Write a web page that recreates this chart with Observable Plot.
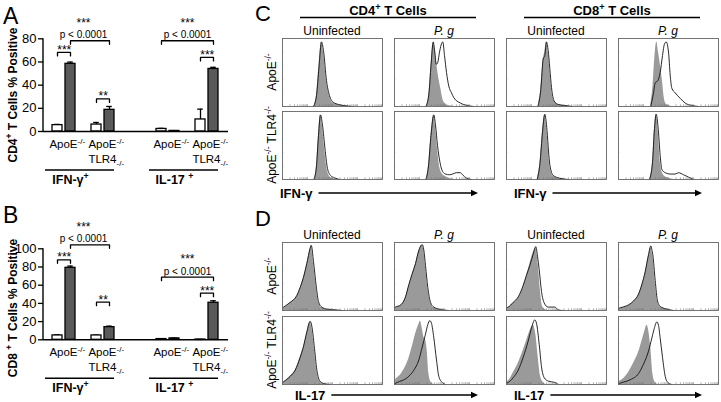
<!DOCTYPE html>
<html>
<head>
<meta charset="utf-8">
<script src="https://cdn.jsdelivr.net/npm/d3@7"></script>
<script src="https://cdn.jsdelivr.net/npm/@observablehq/plot@0.6"></script>
<style>
  html,body{margin:0;padding:0;background:#fff;}
  #fig{position:relative;width:721px;height:402px;overflow:hidden;background:#fff;}
  #fig svg{position:absolute;overflow:visible;}
</style>
</head>
<body>
<div id="fig"></div>
<script>
const FONT = "Arial, 'Liberation Sans', Helvetica, sans-serif";

// ---------- Panels A & B : bar charts ----------
const conditions = ["Uninfected", "P. g"];
const genotypes = ["ApoE^-/-", "ApoE^-/-\nTLR4_-/-"];
const cytokines = ["IFN-γ^+", "IL-17 ^+"];
// order: IFN ApoE (U,P), IFN ApoE/TLR4 (U,P), IL-17 ApoE (U,P), IL-17 ApoE/TLR4 (U,P)
const cd4Mean = [5.5, 58.4, 6.0, 18.7, 2.2, 0.5, 10.4, 54.0];
const cd4Err  = [0.6, 1.5, 1.8, 2.9, 0.5, 0.2, 8.9, 1.4];
const cd8Mean = [4.8, 79.1, 4.8, 13.9, 0.8, 1.5, 0.3, 40.7];
const cd8Err  = [0.7, 1.9, 0.3, 1.1, 0.2, 0.3, 0.1, 2.2];
const yTicksCD4 = [0, 20, 40, 60, 80];
const yTicksCD8 = [0, 20, 40, 60, 80, 100];
const yLabelCD4 = "CD4^+ T Cells % Positive";
const yLabelCD8 = "CD8 ^+ T Cells % Positive";
const cd4Brackets = [
  {from: "c0g00", to: "c0g01", y: 68.2, stars: "***"},
  {from: "c0g01", to: "c0g11", y: 78.3, stars: "***", p: "p < 0.0001", mid: "sp1"},
  {from: "c0g10", to: "c0g11", y: 28.1, stars: "**"},
  {from: "c1g00", to: "c1g11", y: 78.3, stars: "***", p: "p < 0.0001", mid: "sp5"},
  {from: "c1g10", to: "c1g11", y: 63.9, stars: "***"}
];
const cd8Brackets = [
  {from: "c0g00", to: "c0g01", y: 87.9, stars: "***"},
  {from: "c0g01", to: "c0g11", y: 104.4, stars: "***", p: "p < 0.0001", mid: "sp1"},
  {from: "c0g10", to: "c0g11", y: 41.3, stars: "**"},
  {from: "c1g00", to: "c1g11", y: 68.8, stars: "***", p: "p < 0.0001", mid: "sp5"},
  {from: "c1g10", to: "c1g11", y: 51.2, stars: "***"}
];

// ---------- Panels C & D : flow histograms (x: 0-100 of box width, y: % of box height) ----------
const cellTypes = ["CD4^+ T Cells", "CD8^+ T Cells"];
const histRowLabels = ["ApoE^-/-", "ApoE^-/- TLR4^-/-"];

const ifn_cd4_un_apoe_grey = [[31,0],[34,17],[36.5,60],[39,95],[41,80],[44,37],[47,15],[51,5],[56,2.5],[61,1.5],[68,0]];
const ifn_cd4_un_apoe_open = [[31,0],[34,16],[36.5,58],[39,95],[41,82],[44,38],[47,16],[51,6],[56,3],[61,1.5],[70,0]];
const ifn_cd4_un_tlr4_grey = [[31.5,0],[34,20],[36,65],[38,95],[40,78],[42.5,40],[45,12],[48,3],[52,1],[56,0]];
const ifn_cd4_un_tlr4_open = [[31.5,0],[34,20],[36,65],[38,95],[40,80],[42.5,45],[45,16],[48,6],[52,2.5],[57,0]];
const ifn_cd4_pg_apoe_grey = [[31.5,0],[34.5,20],[36.5,60],[38.7,92],[40.5,85],[42.5,60],[44.5,40],[46.5,25],[48.5,10],[51,4],[55,1],[60,0]];
const ifn_cd4_pg_apoe_open = [[31.5,0],[34.5,20],[36.5,60],[38.7,95],[40.3,80],[41.8,62],[43.3,65],[45,80],[48.3,95],[50,75],[52,50],[54.3,30],[57,20],[59.3,13],[66,5],[72.7,1.5],[79,0]];
const ifn_cd4_pg_tlr4_grey = [[31.5,0],[34,20],[36.5,65],[39.3,95],[41,78],[43,45],[45,20],[47,10],[50,5],[55,2],[60,0]];
const ifn_cd4_pg_tlr4_open = [[31.5,0],[34,20],[36.5,65],[39.3,95],[41,80],[43,50],[45.5,25],[48,12],[51,8],[55,7],[58,8],[62,10],[66,10],[68,7],[72,2],[77,0]];
const ifn_cd8_un_apoe_grey = [[31.5,0],[34.3,25],[36.7,68],[38.3,80],[40,95],[41.7,80],[43.3,56],[45,27],[47.7,8],[51.7,3],[58,1.5],[65,0]];
const ifn_cd8_un_apoe_open = [[31.5,0],[34.3,25],[36.7,70],[38.3,75],[40,95],[41.7,82],[43.3,56],[45,28],[47.7,8],[51.7,3],[58,1.5],[66,0]];
const ifn_cd8_un_tlr4_grey = [[30.7,0],[33.5,25],[36,70],[38.3,95],[40.5,70],[42,40],[43.3,20],[46.7,5],[53,1],[60,0]];
const ifn_cd8_un_tlr4_open = [[30.7,0],[33.5,24],[36,70],[38.3,96],[40.5,72],[42,42],[43.3,22],[46.7,6],[53,2],[62,0]];
const ifn_cd8_pg_apoe_grey = [[32,0],[34.5,30],[36.5,75],[38.3,95],[40,80],[42,60],[44,37],[45.5,15],[47,5],[50,1],[54,0]];
const ifn_cd8_pg_apoe_open = [[32.3,0],[35,20],[36.7,35],[39.3,38],[41.7,50],[44,75],[46,92],[47.7,95],[50,80],[51.7,46],[53.3,27],[56.7,20],[61.7,12],[66.7,5],[73.3,1.5],[80,0]];
const ifn_cd8_pg_tlr4_grey = [[31,0],[34,25],[36,75],[37.7,96],[39.5,75],[41.7,27],[43.3,12],[46.7,4],[52,1],[56,0]];
const ifn_cd8_pg_tlr4_open = [[31,0],[34,25],[36,75],[37.7,96],[39.5,78],[41.7,35],[43.3,15],[46.7,10],[51.7,8],[56.7,8],[60,10],[65,7],[70,3.5],[75,0]];

const il17_cd4_un_apoe_grey = [[0,2],[1,3],[7.7,11],[14.3,21],[17.7,33],[21,48],[24.3,68],[27.7,90],[28.7,94],[31,70],[33.7,35],[36,12],[39.3,4],[44.3,2],[51,1],[58,0]];
const il17_cd4_un_apoe_open = [[0,4],[1,5],[7.7,12],[14.3,22],[17.7,34],[21,49],[24.3,69],[27.7,92],[28.7,96],[31,72],[33.7,36],[36,13],[39.3,5],[44.3,2],[51,1],[60,0]];
const il17_cd4_un_tlr4_grey = [[0,2],[1,3],[7.7,12],[12.7,21],[17.7,40],[21,55],[24.3,76],[27.7,92],[29.3,84],[31.7,55],[34.3,21],[37,5],[41,1],[46,0]];
const il17_cd4_un_tlr4_open = [[0,3],[1,4],[7.7,12],[12.7,21],[17.7,40],[21,56],[24.3,77],[27.7,93],[29.3,86],[31.7,57],[34.3,22],[37,6],[41,1.5],[47,0]];
const il17_cd4_pg_apoe_grey = [[0,3],[1,4],[6,7],[11,19],[14.3,36],[17.7,53],[21,68],[24.3,88],[27.7,96],[29.3,88],[31,65],[33.3,33],[36,11],[39.3,4],[46,1],[52,0]];
const il17_cd4_pg_apoe_open = [[0,4],[1,5],[6,8],[11,20],[14.3,38],[17.7,54],[21,69],[24.3,88],[27.7,97],[29.3,89],[31,66],[33.3,34],[36,12],[39.3,5],[46,1.5],[54,0]];
const il17_cd4_pg_tlr4_grey = [[0,5],[1,7],[6,14],[11,26],[14.3,38],[17.7,55],[21,74],[24.3,88],[26,93],[27.7,83],[29.3,70],[31,66],[32.7,50],[34.3,17],[36.7,3],[40,0]];
const il17_cd4_pg_tlr4_open = [[0,1],[2.7,3],[12.7,10],[19.3,21],[24.3,36],[27.7,55],[31,74],[33.3,88],[35.3,94],[37,90],[39.3,69],[42,36],[44.3,12],[47.7,3],[51,0]];
const il17_cd8_un_apoe_grey = [[0,3],[1.7,4],[6.7,11],[11.7,18],[16.7,35],[20,51],[23.3,68],[26.7,85],[29.3,92],[31.7,68],[34,28],[36,6],[38.3,2],[42,0]];
const il17_cd8_un_apoe_open = [[0,4],[1.7,5],[6.7,12],[11.7,20],[16.7,37],[20,52],[23.3,66],[26.7,83],[29.3,94],[31,80],[32.7,60],[35,28],[37.7,11],[41.7,5],[48.3,5],[51.7,1],[56,0]];
const il17_cd8_un_tlr4_grey = [[0,4],[1.7,5],[6.7,17],[11.7,31],[16.7,50],[20,64],[23.3,78],[26.7,87],[29.3,74],[31.7,40],[34,12],[36.7,3],[40,0]];
const il17_cd8_un_tlr4_open = [[0,2],[1.7,3],[6.7,10],[11.7,21],[16.7,40],[21.7,64],[25,83],[28.3,95],[30,90],[32.7,59],[35,26],[37.7,10],[41.7,5],[48.3,3],[52,0]];
const il17_cd8_pg_apoe_grey = [[0,2],[1.7,3],[8.3,6],[15,13],[20,23],[23.3,37],[26.7,56],[30,80],[32.3,92],[34.3,80],[36.7,42],[39,13],[41.7,5],[48.3,2],[53.3,0]];
const il17_cd8_pg_apoe_open = [[0,3],[1.7,4],[8.3,7],[15,14],[20,24],[23.3,38],[26.7,57],[30,82],[32.3,95],[33.3,90],[34.3,82],[36.7,44],[39,14],[41.7,6],[48.3,2],[55,0]];
const il17_cd8_pg_tlr4_grey = [[0,4],[1.7,5],[8.3,14],[15,31],[20,47],[23.3,63],[26.7,80],[28.3,87],[30,81],[32.3,54],[34.3,16],[36.7,3],[40,0]];
const il17_cd8_pg_tlr4_open = [[0,1],[1.7,2],[11.7,7],[20,16],[25,30],[30,49],[33.3,68],[35.7,82],[38.3,92],[40,87],[41.7,68],[44,40],[46.7,12],[49.3,3],[53.3,0]];

// ---------- helpers ----------
const key = (c, g, k) => `c${c}g${g}${k}`;
const slots = [key(0,0,0), key(0,0,1), "sp1", key(0,1,0), key(0,1,1), "sp2", "sp3", "sp4",
               key(1,0,0), key(1,0,1), "sp5", key(1,1,0), key(1,1,1)];
const fig = document.getElementById("fig");

function rich(svg) {
  svg.querySelectorAll("text").forEach(t => {
    const spans = t.querySelectorAll("tspan");
    const leaves = spans.length ? Array.from(spans) : [t];
    leaves.forEach(leaf => {
      const s = leaf.textContent;
      if (!/[\^_]/.test(s)) return;
      leaf.textContent = "";
      s.split(/([\^_][^\s]+)/).forEach(p => {
        if (!p) return;
        const ts = document.createElementNS("http://www.w3.org/2000/svg", "tspan");
        if (p[0] === "^" || p[0] === "_") {
          ts.textContent = p.slice(1);
          ts.setAttribute("font-size", "70%");
          ts.setAttribute("baseline-shift", p[0] === "^" ? "super" : "-2.5");
        } else ts.textContent = p;
        leaf.appendChild(ts);
      });
    });
  });
}

function place(svg, left, top) {
  svg.style.left = left + "px";
  svg.style.top = top + "px";
  fig.appendChild(svg);
}

function makeBars({mean, err, brackets, yTicks, yMax, height, marginTop, marginBottom}) {
  const bars = mean.map((m, i) => ({slot: key(Math.floor(i / 4), Math.floor(i / 2) % 2, i % 2), k: i % 2, m, e: err[i]}));
  const plotH = height - marginTop - marginBottom;
  const tl = 3.5 * yMax / plotH;
  const bpts = brackets.flatMap((b, i) => [
    {id: i, slot: b.from, y: b.y - tl}, {id: i, slot: b.from, y: b.y},
    {id: i, slot: b.to, y: b.y}, {id: i, slot: b.to, y: b.y - tl}]);
  const catLabels = cytokines.flatMap((cy, c) => genotypes.map((ge, g) => ({slot: key(c, g, 0), text: ge})));
  const cytoLabels = cytokines.map((cy, c) => ({slot: key(c, 0, 1), text: cy}));
  const underlines = cytokines.map((cy, c) => ({from: key(c, 0, 0), to: key(c, 1, 1)}));
  const W = 240, mL = 43, mR = 12, pi = 0.22, po = 0.46;
  const half = (W - mL - mR) / (slots.length - pi + 2 * po) / 2;
  return Plot.plot({
    width: W, height, marginLeft: mL, marginRight: mR, marginTop, marginBottom,
    style: {fontFamily: FONT, fontSize: "13px", color: "black", background: "transparent", overflow: "visible"},
    x: {type: "band", domain: slots, paddingInner: pi, paddingOuter: po, axis: null},
    y: {domain: [0, yMax]},
    marks: [
      Plot.axisY({ticks: yTicks, tickSize: 5, tickPadding: 2, fontSize: 13, label: null, strokeWidth: 1.3}),
      Plot.ruleX(bars, {x: "slot", y1: "m", y2: d => d.m + d.e, strokeWidth: 1.3}),
      Plot.tickY(bars, {x: "slot", y: d => d.m + d.e, insetLeft: 2.2, insetRight: 2.2, strokeWidth: 1.3}),
      Plot.barY(bars.filter(d => d.k === 0), {x: "slot", y: "m", fill: "white", stroke: "black", strokeWidth: 1.3}),
      Plot.barY(bars.filter(d => d.k === 1), {x: "slot", y: "m", fill: "#5a5a5a", stroke: "black", strokeWidth: 1.3}),
      Plot.ruleY([0], {strokeWidth: 1.4}),
      Plot.line(bpts, {x: "slot", y: "y", z: "id", stroke: "black", strokeWidth: 1.3}),
      Plot.text(brackets.filter(b => !b.p), {x: "from", y: "y", text: "stars", dx: half, dy: 1.5, lineAnchor: "bottom", fontSize: 12}),
      Plot.text(brackets.filter(b => b.p), {x: "mid", y: "y", text: "p", dy: -2.5, lineAnchor: "bottom", fontSize: 10}),
      Plot.text(brackets.filter(b => b.p), {x: "mid", y: "y", text: "stars", dy: -14, lineAnchor: "bottom", fontSize: 12}),
      Plot.text(catLabels, {x: "slot", text: "text", frameAnchor: "bottom", lineAnchor: "top", dx: half + 3, dy: 6, fontSize: 11.5, lineHeight: 1.3}),
      Plot.ruleY(underlines, {x1: "from", x2: "to", y: () => 0, dy: 38.5, insetLeft: -7, strokeWidth: 1.4}),
      Plot.text(cytoLabels, {x: "slot", text: "text", frameAnchor: "bottom", dy: 52.3, fontWeight: "bold", fontSize: 12.5})
    ]
  });
}

function decorateBars(svg, letter, letterY, ylabel, ylabelY) {
  const x = svg.scale("x"), y = svg.scale("y");
  const g = d3.select(svg).append("g").attr("font-family", FONT).attr("fill", "black").attr("text-anchor", "start");
  g.append("line").attr("x1", x.range[0]).attr("x2", x.range[0])
    .attr("y1", y.apply(y.domain[0]) + 0.7).attr("y2", y.apply(y.domain[1]))
    .attr("stroke", "black").attr("stroke-width", 1.4);
  g.append("text").attr("x", 3).attr("y", letterY).attr("font-size", 23).text(letter);
  g.append("text").attr("transform", `translate(13,${ylabelY}) rotate(-90)`).attr("text-anchor", "middle")
    .attr("dy", "0.35em").attr("font-size", 12).attr("font-weight", "bold").text(ylabel);
}

// ---------- A ----------
const chartA = makeBars({mean: cd4Mean, err: cd4Err, brackets: cd4Brackets, yTicks: yTicksCD4, yMax: 80,
  height: 195, marginTop: 38.3, marginBottom: 64});
place(chartA, 0, 0);
decorateBars(chartA, "A", 23.5, yLabelCD4, 95);
rich(chartA);

// ---------- B ----------
const chartB = makeBars({mean: cd8Mean, err: cd8Err, brackets: cd8Brackets, yTicks: yTicksCD8, yMax: 100,
  height: 207, marginTop: 53.3, marginBottom: 62.7});
place(chartB, 0, 195);
decorateBars(chartB, "B", 28.3, yLabelCD8, 113);
rich(chartB);

// ---------- C & D ----------
const histCols = cellTypes.flatMap(ct => conditions.map(cn => ct + "|" + cn));
const histXTicks = d3.range(4).flatMap(d => d3.range(1, 10).map(k => 25 * d + 25 * Math.log10(k))).concat([100]);
const histYTicks = [0, 20, 40, 60, 80, 100];

const ifnPanels = [
  {col: 0, row: 0, grey: ifn_cd4_un_apoe_grey, open: ifn_cd4_un_apoe_open},
  {col: 0, row: 1, grey: ifn_cd4_un_tlr4_grey, open: ifn_cd4_un_tlr4_open},
  {col: 1, row: 0, grey: ifn_cd4_pg_apoe_grey, open: ifn_cd4_pg_apoe_open},
  {col: 1, row: 1, grey: ifn_cd4_pg_tlr4_grey, open: ifn_cd4_pg_tlr4_open},
  {col: 2, row: 0, grey: ifn_cd8_un_apoe_grey, open: ifn_cd8_un_apoe_open},
  {col: 2, row: 1, grey: ifn_cd8_un_tlr4_grey, open: ifn_cd8_un_tlr4_open},
  {col: 3, row: 0, grey: ifn_cd8_pg_apoe_grey, open: ifn_cd8_pg_apoe_open},
  {col: 3, row: 1, grey: ifn_cd8_pg_tlr4_grey, open: ifn_cd8_pg_tlr4_open}
];
const il17Panels = [
  {col: 0, row: 0, grey: il17_cd4_un_apoe_grey, open: il17_cd4_un_apoe_open},
  {col: 0, row: 1, grey: il17_cd4_un_tlr4_grey, open: il17_cd4_un_tlr4_open},
  {col: 1, row: 0, grey: il17_cd4_pg_apoe_grey, open: il17_cd4_pg_apoe_open},
  {col: 1, row: 1, grey: il17_cd4_pg_tlr4_grey, open: il17_cd4_pg_tlr4_open},
  {col: 2, row: 0, grey: il17_cd8_un_apoe_grey, open: il17_cd8_un_apoe_open},
  {col: 2, row: 1, grey: il17_cd8_un_tlr4_grey, open: il17_cd8_un_tlr4_open},
  {col: 3, row: 0, grey: il17_cd8_pg_apoe_grey, open: il17_cd8_pg_apoe_open},
  {col: 3, row: 1, grey: il17_cd8_pg_tlr4_grey, open: il17_cd8_pg_tlr4_open}
];

function makeHist(entries, {height, marginTop, marginBottom, fyPad}) {
  const fillPts = [], linePts = [];
  entries.forEach((e, i) => {
    const fx = histCols[e.col], fy = histRowLabels[e.row];
    e.grey.forEach(([x, y]) => fillPts.push({fx, fy, key: i, x, y}));
    e.open.forEach(([x, y]) => linePts.push({fx, fy, key: i, x, y}));
  });
  return Plot.plot({
    width: 481, height, marginLeft: 42, marginRight: 2.6, marginTop, marginBottom,
    style: {fontFamily: FONT, color: "black", background: "transparent", overflow: "visible"},
    fx: {domain: histCols, paddingInner: 0.11, paddingOuter: 0, axis: null},
    fy: {domain: histRowLabels, paddingInner: fyPad, paddingOuter: 0, axis: null},
    x: {domain: [0, 100], axis: null},
    y: {domain: [0, 100], axis: null},
    marks: [
      Plot.areaY(fillPts, {fx: "fx", fy: "fy", x: "x", y1: 0, y2: "y", z: "key", fill: "#9a9a9a", curve: "monotone-x"}),
      Plot.lineY(linePts, {fx: "fx", fy: "fy", x: "x", y: "y", z: "key", stroke: "#111", strokeWidth: 0.9, curve: "monotone-x"}),
      Plot.ruleX(histXTicks, {x: d => d, y1: 0, y2: 2.5, stroke: "#777", strokeWidth: 0.6}),
      Plot.ruleY(histYTicks, {y: d => d, x1: 0, x2: 1.2, stroke: "#777", strokeWidth: 0.6}),
      Plot.frame({stroke: "#666", strokeWidth: 0.9})
    ]
  });
}

function decorateHist(svg, {letter, letterY, axisLabel, labelY, labelOffsets, headers}) {
  const fx = svg.scale("fx"), fy = svg.scale("fy");
  const bw = fx.bandwidth, bh = fy.bandwidth;
  const g = d3.select(svg).append("g").attr("font-family", FONT).attr("fill", "black").attr("text-anchor", "start");
  g.append("text").attr("x", 15).attr("y", letterY).attr("font-size", 22).text(letter);
  histCols.forEach((c, i) => {
    g.append("text").attr("x", fx.apply(c) + bw / 2).attr("y", fy.apply(histRowLabels[0]) - 3.5)
      .attr("text-anchor", "middle").attr("font-size", 12)
      .attr("font-style", i % 2 ? "italic" : "normal").text(conditions[i % 2]);
  });
  histRowLabels.forEach(r => {
    const cx = fx.apply(histCols[0]) - 10, cy = fy.apply(r) + bh / 2;
    g.append("text").attr("transform", `translate(${cx},${cy}) rotate(-90)`)
      .attr("text-anchor", "middle").attr("dy", "0.35em").attr("font-size", 12).text(r);
  });
  cellTypes.forEach((ct, p) => {
    const x0 = fx.apply(histCols[2 * p]), x1 = fx.apply(histCols[2 * p + 1]) + bw;
    if (headers) {
      const cx = (x0 + x1) / 2;
      g.append("text").attr("x", cx).attr("y", 14.5).attr("text-anchor", "middle")
        .attr("font-size", 13).attr("font-weight", "bold").text(ct);
      g.append("line").attr("x1", cx - 88).attr("x2", cx + 88).attr("y1", 17.5).attr("y2", 17.5)
        .attr("stroke", "black").attr("stroke-width", 1.5);
    }
    const lab = g.append("text").attr("x", x0 + labelOffsets[p]).attr("y", labelY)
      .attr("font-size", 13).attr("font-weight", "bold").text(axisLabel);
    const end = x0 + labelOffsets[p] + lab.node().getComputedTextLength();
    const ay = labelY - 4.5, ax2 = x1 - 16;
    g.append("line").attr("x1", end + 6).attr("x2", ax2 - 5).attr("y1", ay).attr("y2", ay)
      .attr("stroke", "black").attr("stroke-width", 1.5);
    g.append("path").attr("d", `M${ax2},${ay} L${ax2 - 7},${ay - 3.2} L${ax2 - 7},${ay + 3.2} Z`).attr("fill", "black");
  });
}

const chartC = makeHist(ifnPanels, {height: 200, marginTop: 37, marginBottom: 20.5, fyPad: 0.074});
place(chartC, 240, 0);
decorateHist(chartC, {letter: "C", letterY: 21, axisLabel: "IFN-γ", labelY: 197.5, labelOffsets: [-2, 8], headers: true});
rich(chartC);

const chartD = makeHist(il17Panels, {height: 202, marginTop: 41.7, marginBottom: 17, fyPad: 0.076});
place(chartD, 240, 200);
decorateHist(chartD, {letter: "D", letterY: 26, axisLabel: "IL-17", labelY: 199.5, labelOffsets: [13, 8], headers: false});
rich(chartD);
</script>
</body>
</html>
